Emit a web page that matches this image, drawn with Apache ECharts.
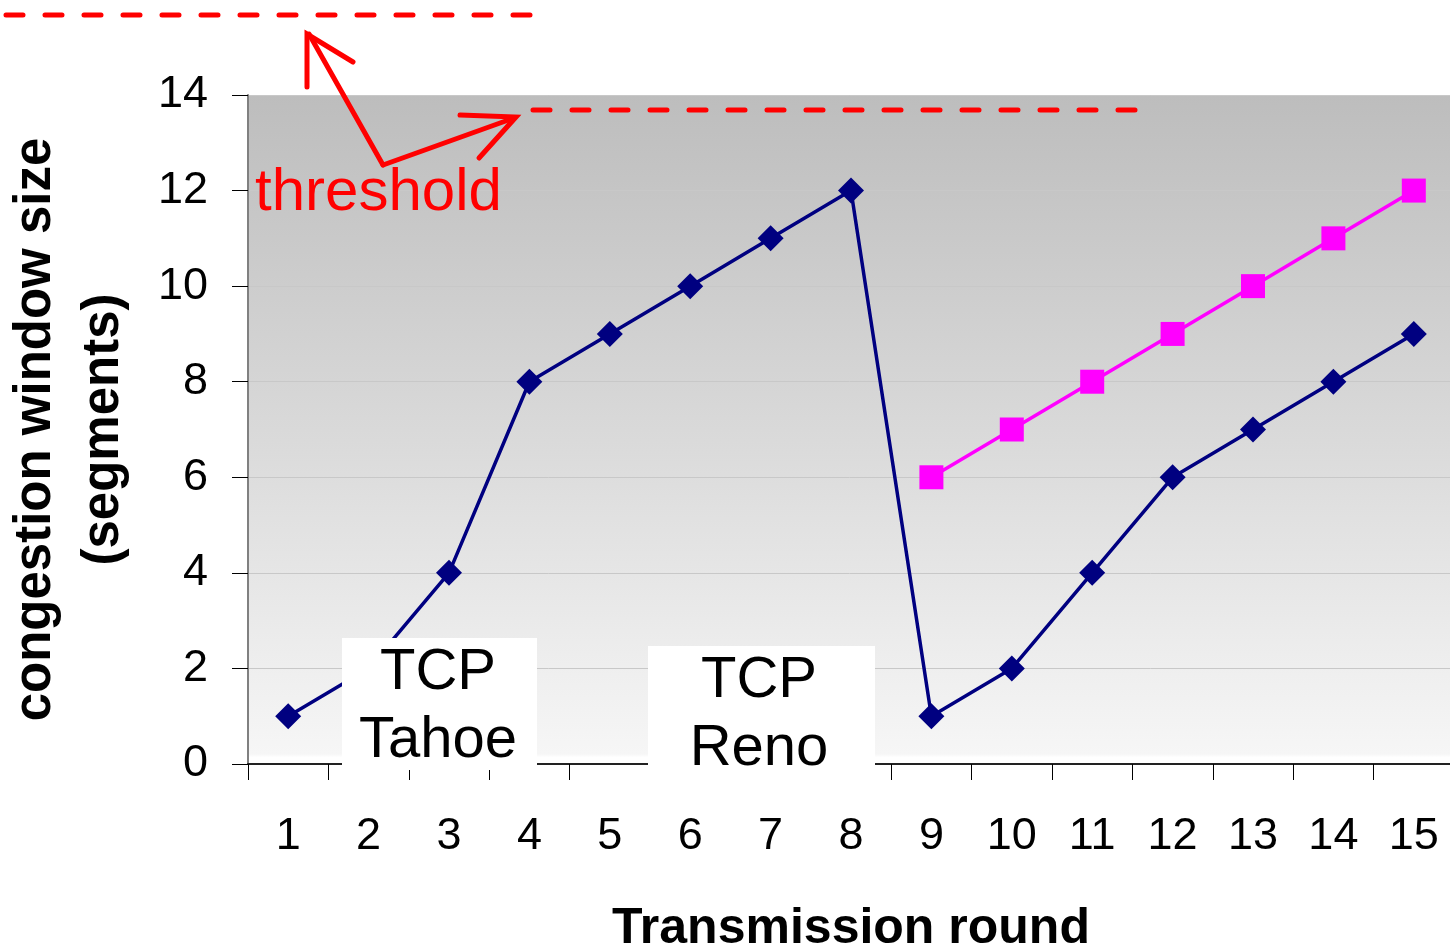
<!DOCTYPE html>
<html>
<head>
<meta charset="utf-8">
<script src="https://cdn.jsdelivr.net/npm/echarts@6/dist/echarts.min.js"></script>
<style>
html,body{margin:0;padding:0;background:#fff;}
#chart{width:1450px;height:948px;}
</style>
</head>
<body>
<div id="chart"></div>
<script>
// ---- data ----
var rounds = ['1','2','3','4','5','6','7','8','9','10','11','12','13','14','15'];
var tahoe = [1,2,4,8,9,10,11,12,1,2,4,6,7,8,9];
var reno  = [null,null,null,null,null,null,null,null,6,7,8,9,10,11,12];
var yTicks = [0,2,4,6,8,10,12,14];

var FONT = 'Liberation Sans, Arial, sans-serif';
var RED = '#ff0000';

var chart = echarts.init(document.getElementById('chart'));

var option = {
  animation: false,
  backgroundColor: '#ffffff',
  grid: {
    left: 248, right: -4, top: 95, bottom: 184,
    containLabel: false,
    outerBoundsMode: 'none',
    show: true,
    borderWidth: 0,
    backgroundColor: {
      type: 'linear', x: 0, y: 0, x2: 0, y2: 1,
      colorStops: [
        {offset: 0, color: '#bdbdbd'},
        {offset: 0.5, color: '#d9d9d9'},
        {offset: 0.985, color: '#f6f6f6'},
        {offset: 0.99, color: '#ffffff'},
        {offset: 1, color: '#ffffff'}
      ]
    }
  },
  xAxis: {
    type: 'category',
    data: rounds,
    boundaryGap: true,
    name: 'Transmission round',
    nameLocation: 'middle',
    nameGap: 140,
    nameTextStyle: {fontFamily: FONT, fontSize: 50, fontWeight: 'bold', color: '#000'},
    axisLine: {show: true, lineStyle: {color: '#222', width: 2}},
    axisTick: {show: true, alignWithLabel: false, interval: 0, length: 16, lineStyle: {color: '#000', width: 1}},
    axisLabel: {fontFamily: FONT, fontSize: 45, color: '#000', margin: 50, interval: 0},
    splitLine: {show: false}
  },
  yAxis: {
    type: 'value',
    min: 0, max: 14, interval: 2,
    name: 'congestion window size\n(segments)',
    nameLocation: 'middle',
    nameGap: 110,
    nameRotate: 90,
    nameTextStyle: {fontFamily: FONT, fontSize: 51, fontWeight: 'bold', color: '#000', lineHeight: 68, align: 'center'},
    axisLine: {show: true, lineStyle: {color: '#808080', width: 2}},
    axisTick: {show: true, length: 16, lineStyle: {color: '#000', width: 1}},
    axisLabel: {fontFamily: FONT, fontSize: 45, color: '#000', margin: 40,
      formatter: function (v) { return yTicks.indexOf(v) >= 0 ? String(v) : ''; }},
    splitLine: {show: true, lineStyle: {color: '#c8c8c8', width: 1}}
  },
  series: [
    {
      name: 'TCP Tahoe',
      type: 'line',
      data: tahoe,
      symbol: 'diamond',
      symbolSize: 26,
      itemStyle: {color: '#000080'},
      lineStyle: {color: '#000080', width: 3.5},
      z: 3
    },
    {
      name: 'TCP Reno',
      type: 'line',
      data: reno,
      symbol: 'rect',
      symbolSize: 24,
      connectNulls: false,
      itemStyle: {color: '#ff00ff'},
      lineStyle: {color: '#ff00ff', width: 3.5},
      z: 4
    }
  ],
  graphic: [
    // threshold dashed lines
    {type: 'line', z: 50, shape: {x1: 6, y1: 15, x2: 538, y2: 15},
      style: {stroke: RED, lineWidth: 5, lineDash: [17, 22], lineCap: 'round'}},
    {type: 'line', z: 50, shape: {x1: 533, y1: 110, x2: 1138, y2: 110},
      style: {stroke: RED, lineWidth: 5, lineDash: [17, 22], lineCap: 'round'}},
    // arrows
    {type: 'polyline', z: 50, shape: {points: [[383, 165], [309, 34]]},
      style: {stroke: RED, lineWidth: 5, lineCap: 'round', fill: null}},
    {type: 'polyline', z: 50, shape: {points: [[307, 87], [307, 34], [353, 62]]},
      style: {stroke: RED, lineWidth: 5, lineCap: 'round', lineJoin: 'miter', fill: null}},
    {type: 'polyline', z: 50, shape: {points: [[383, 165], [514, 118]]},
      style: {stroke: RED, lineWidth: 5, lineCap: 'round', fill: null}},
    {type: 'polyline', z: 50, shape: {points: [[460, 115], [516, 117], [479, 158]]},
      style: {stroke: RED, lineWidth: 5, lineCap: 'round', lineJoin: 'miter', fill: null}},
    {type: 'text', z: 50, style: {text: 'threshold', x: 255, y: 223, fill: RED,
      font: '60px ' + FONT, textVerticalAlign: 'bottom'}},
    // TCP Tahoe box
    {type: 'rect', z: 40, shape: {x: 342, y: 638, width: 195, height: 132}, style: {fill: '#ffffff'}},
    {type: 'text', z: 41, style: {text: 'TCP\nTahoe', x: 438, y: 639, fill: '#000',
      font: '58px ' + FONT, textAlign: 'center', lineHeight: 68}},
    // TCP Reno box
    {type: 'rect', z: 40, shape: {x: 648, y: 646, width: 227, height: 134}, style: {fill: '#ffffff'}},
    {type: 'text', z: 41, style: {text: 'TCP\nReno', x: 759, y: 647, fill: '#000',
      font: '58px ' + FONT, textAlign: 'center', lineHeight: 68}}
  ]
};

chart.setOption(option);
</script>
</body>
</html>
